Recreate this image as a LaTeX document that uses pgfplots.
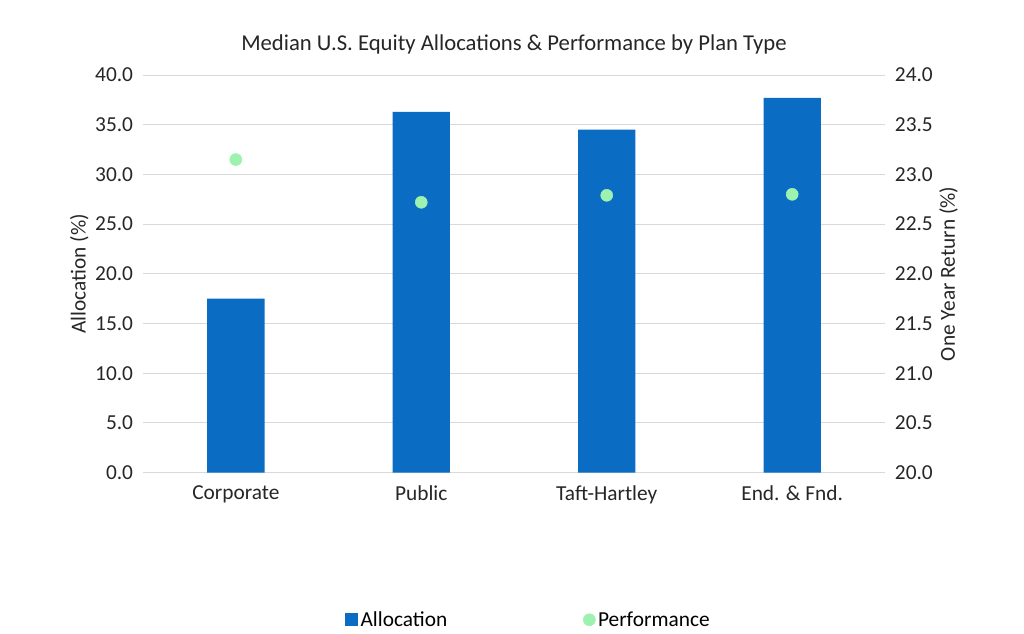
\documentclass[border=0pt]{standalone}
\usepackage{fontspec}
\setmainfont{Carlito}
\usepackage{pgfplots}
\pgfplotsset{compat=1.18}
\definecolor{barblue}{HTML}{0A6CC2}
\definecolor{dotgreen}{HTML}{9CF2AE}
\definecolor{gridc}{HTML}{D9D9D9}
\begin{document}
\begin{tikzpicture}
\pgfplotsset{common/.style={scale only axis,width=556pt,height=298pt,
 xmin=-0.5,xmax=3.5,axis line style={draw=none},major tick length=0pt,
 tick label style={font=\fontsize{16}{18}\selectfont,color=black!85},
 xticklabel style={yshift=-6pt},
 label style={font=\fontsize{16}{18}\selectfont,color=black!85},
 /pgf/number format/assume math mode=true}}
\begin{axis}[common,name=ax,ymin=0,ymax=40,ytick={0,5,...,40},
 yticklabel style={xshift=-4pt},
 yticklabel={\pgfmathprintnumber[fixed,fixed zerofill,precision=1]{\tick}},
 ymajorgrids,grid style={gridc,line width=0.8pt},
 xtick={0,1,2,3},xticklabels={Corporate,Public,Taft-Hartley,End. \& Fnd.},
 ylabel={Allocation (\%)},ylabel style={yshift=-2pt},
 title={Median U.S. Equity Allocations \& Performance by Plan Type},
 title style={font=\fontsize{17}{20}\selectfont,color=black!85,yshift=6pt}]
\addplot[ybar,bar width=43pt,fill=barblue,draw=none] coordinates {(0,17.5)(1,36.3)(2,34.5)(3,37.7)};
\end{axis}
\begin{axis}[common,axis y line*=right,ymin=20,ymax=24,ytick={20,20.5,...,24},
 yticklabel style={xshift=4pt},
 yticklabel={\pgfmathprintnumber[fixed,fixed zerofill,precision=1]{\tick}},
 xtick=\empty,ylabel={One Year Return (\%)},ylabel style={yshift=2pt},
 legend style={at={(0.52,-0.37)},anchor=center,draw=none,legend columns=2,
 font=\fontsize{16}{18}\selectfont,/tikz/every even column/.append style={column sep=100pt}},
 legend cell align=left]
\addlegendimage{legend image code/.code={\fill[barblue] (0pt,-4.5pt) rectangle (9pt,4.5pt);}}
\addlegendentry{Allocation}
\addplot[only marks,mark=*,mark size=4.5pt,color=dotgreen] coordinates {(0,23.15)(1,22.72)(2,22.79)(3,22.80)};
\addlegendentry{Performance}
\end{axis}
\path[use as bounding box] ([shift={(-107.25pt,-111pt)}]ax.south west) rectangle ([shift={(104.25pt,56.25pt)}]ax.north east);
\end{tikzpicture}
\end{document}
